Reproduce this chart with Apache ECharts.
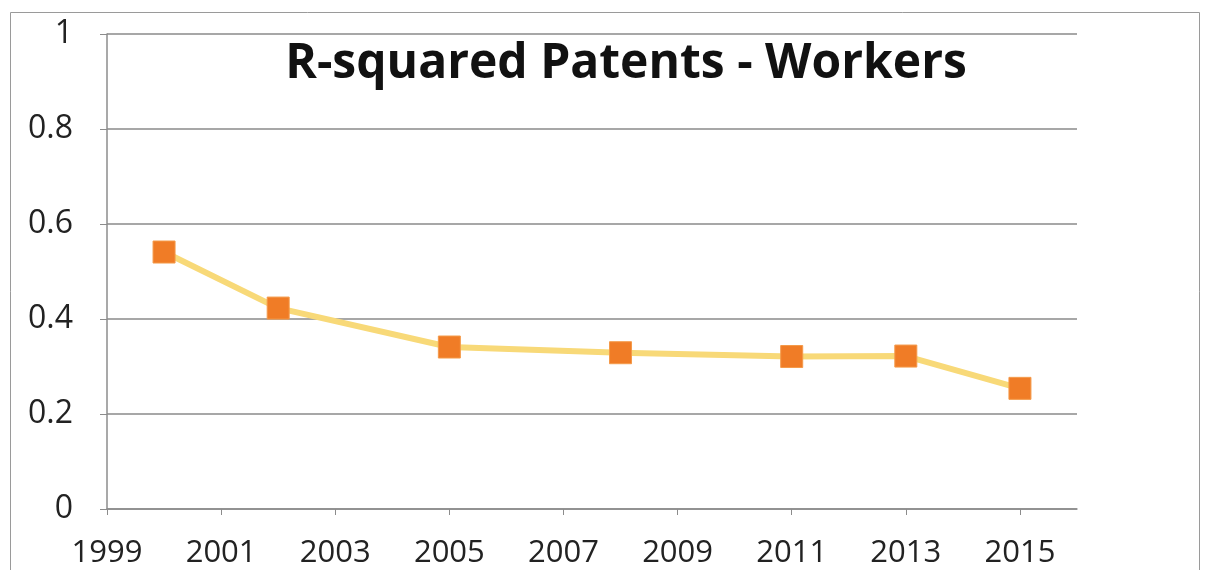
<!DOCTYPE html>
<html>
<head>
<meta charset="utf-8">
<script src="https://cdn.jsdelivr.net/npm/echarts@6/dist/echarts.min.js"></script>
<style>
  html, body { margin: 0; padding: 0; background: #fff; }
  #chart { width: 1208px; height: 570px; }
</style>
</head>
<body>
<div id="chart"></div>
<script>
// x axis categories (every year, labels shown every other one)
var years = ["1999", "2000", "2001", "2002", "2003", "2004", "2005", "2006", "2007",
             "2008", "2009", "2010", "2011", "2012", "2013", "2014", "2015", "2016"];
// observed points
var pointYears = ["2000", "2002", "2005", "2008", "2011", "2013", "2015"];
var rSquared = [0.541, 0.423, 0.341, 0.329, 0.321, 0.322, 0.254];

var chartDom = document.getElementById("chart");
var myChart = echarts.init(chartDom);
var option;

var seriesData = pointYears.map(function (y, i) {
  return [y, rSquared[i]];
});

option = {
  backgroundColor: "#fff",
  animation: false,
  title: {
    text: "R-squared Patents - Workers",
    left: 621,
    top: 35,
    textAlign: "center",
    textStyle: {
      fontFamily: "Open Sans",
      fontWeight: "bold",
      fontSize: 48,
      color: "#111",
    },
  },
  graphic: [
    {
      type: "rect",
      shape: { x: 10.5, y: 12.5, width: 1189, height: 600 },
      style: { fill: "none", stroke: "#9a9a9a", lineWidth: 1 },
      silent: true,
    },
  ],
  grid: {
    left: 107,
    right: 131,
    top: 34,
    bottom: 61,
  },
  xAxis: {
    type: "category",
    data: years,
    boundaryGap: false,
    axisLine: { lineStyle: { color: "#8c8c8c", width: 1.5 } },
    axisTick: {
      show: true,
      interval: 1,
      length: 6,
      inside: false,
      lineStyle: { color: "#8c8c8c" },
    },
    axisLabel: {
      interval: 1,
      margin: 29,
      fontFamily: "Open Sans",
      fontSize: 31,
      color: "#222",
    },
    splitLine: { show: false },
  },
  yAxis: {
    type: "value",
    min: 0,
    max: 1,
    interval: 0.2,
    axisLine: { show: true, lineStyle: { color: "#8c8c8c", width: 1.5 } },
    axisTick: { show: true, length: 7, lineStyle: { color: "#8c8c8c" } },
    axisLabel: {
      margin: 34,
      fontFamily: "Open Sans",
      fontSize: 32,
      color: "#222",
    },
    splitLine: { show: true, lineStyle: { color: "#8a8a8a", width: 1.5 } },
  },
  series: [
    {
      type: "line",
      data: seriesData,
      symbol: "rect",
      symbolSize: 22,
      lineStyle: { color: "#f8d978", width: 6 },
      itemStyle: {
        color: "#f07c26",
        borderColor: "#f49a4a",
        borderWidth: 1,
      },
    },
  ],
};

option && myChart.setOption(option);
</script>
</body>
</html>
